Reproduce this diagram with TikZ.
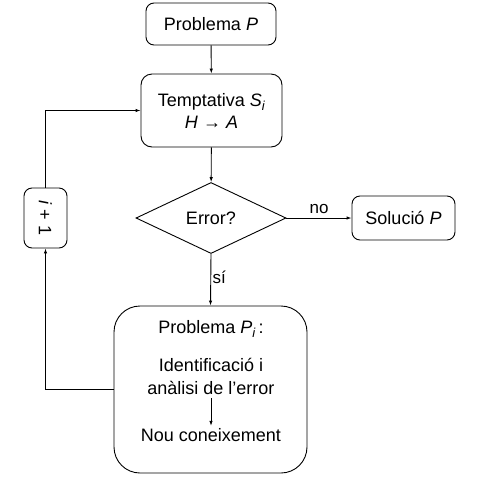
\documentclass[tikz,border=0pt]{standalone}
\usepackage{fontspec}
\setmainfont{Liberation Sans}
\usetikzlibrary{shapes.geometric,arrows.meta}
\begin{document}
\begin{tikzpicture}[x=1pt,y=-1pt,
  every node/.style={font=\fontsize{18}{21}\selectfont},
  box/.style={draw,line width=0.9pt,rounded corners=8pt,inner sep=0pt},
  conn/.style={line width=0.9pt,-{Latex[length=5pt,width=3.5pt]}},
  txt/.style={inner sep=0pt,minimum height=16pt}]
\useasboundingbox (0,0) rectangle (490,488);
\node[box,minimum width=130pt,minimum height=42pt] (pp) at (211,24) {Problema \textit{P}};
\node[box,rounded corners=11pt,minimum width=141pt,minimum height=73pt,align=center] (temp) at (211.5,110.5)
  {Temptativa \textit{S}\raisebox{-0.5ex}{\fontsize{13}{13}\selectfont\textit{i}}\\[1pt] \textit{H} → \textit{A}};
\node[draw,line width=0.9pt,diamond,aspect=2.11,minimum width=150pt,minimum height=71pt,inner sep=0pt] (err) at (211,218) {Error?};
\node[box,minimum width=103pt,minimum height=44pt] (sol) at (403.5,218) {Solució \textit{P}};
\node[box,minimum width=43pt,minimum height=60pt] (inc) at (45.5,218) {\rotatebox{-90}{\textit{i} + 1}};
\node[box,rounded corners=26pt,minimum width=193pt,minimum height=167pt] (pi) at (210.5,389.5) {};
\node[txt] (pit) at (211,329) {Problema \textit{P}\raisebox{-0.5ex}{\fontsize{13}{13}\selectfont\textit{i}}\,:};
\node[txt] (an1) at (211,365) {Identificació i};
\node[txt] (an2) at (211,388) {anàlisi de l’error};
\node[txt] (nou) at (211,435) {Nou coneixement};
\draw[conn] (pp) -- (temp);
\draw[conn] (temp) -- (err);
\draw[conn] (err.east) -- node[above,font=\fontsize{17}{20}\selectfont,yshift=1pt] {no} (sol.west);
\draw[conn] (err.south) -- node[right,pos=0.45,xshift=-2pt,font=\fontsize{17}{20}\selectfont] {sí} (pi.north);
\draw[conn] (pi.west) -| (inc.south);
\draw[conn] (inc.north) |- (temp.west);
\draw[line width=0.8pt,-{Latex[length=5pt,width=3.5pt]},shorten <=2pt,shorten >=1pt] (an2.south) -- (nou.north);
\end{tikzpicture}
\end{document}
